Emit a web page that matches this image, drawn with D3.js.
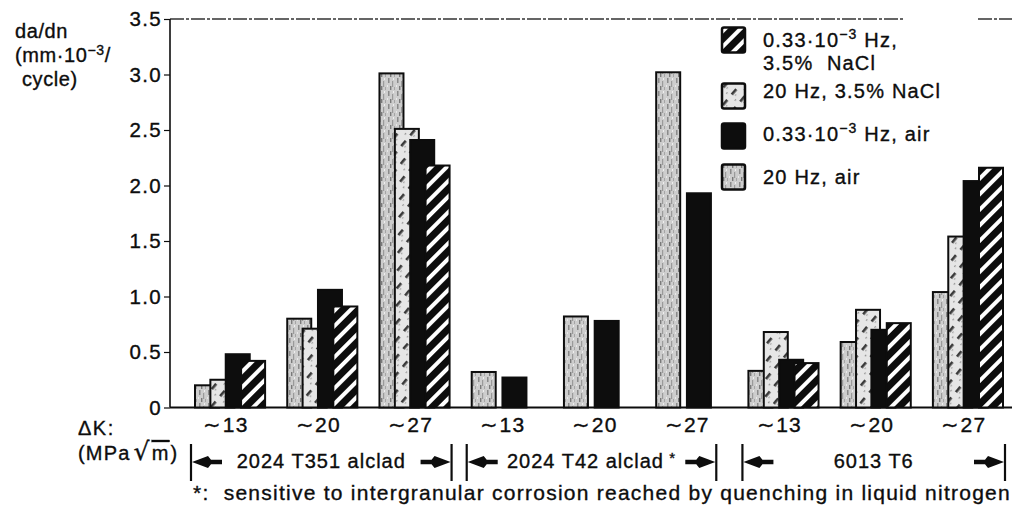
<!DOCTYPE html>
<html><head><meta charset="utf-8">
<script src="https://cdn.jsdelivr.net/npm/d3@7"></script>
<style>
html,body{margin:0;padding:0;background:#fff;}
svg{display:block;font-family:"Liberation Sans",Arial,Helvetica,sans-serif;}
svg text{stroke:#0d0d0d;stroke-width:0.35px;}
</style></head>
<body>
<svg id="c" width="1018" height="510"></svg>
<script>
// ---- data ----
const groupLabels = ["∼13","∼20","∼27","∼13","∼20","∼27","∼13","∼20","∼27"];
const seriesKeys = ["air20","nacl20","airLow","naclLow"];
const air20   = [0.20, 0.80, 3.01, 0.32, 0.82, 3.02, 0.33, 0.59, 1.04];
const nacl20  = [0.25, 0.71, 2.51, null, null, null, 0.68, 0.88, 1.54];
const airLow  = [0.48, 1.06, 2.41, 0.27, 0.78, 1.93, 0.43, 0.70, 2.04];
const naclLow = [0.42, 0.91, 2.18, null, null, null, 0.40, 0.76, 2.16];
const yTicks = [0, 0.5, 1.0, 1.5, 2.0, 2.5, 3.0, 3.5];
const yTickLabels = ["0","0.5","1.0","1.5","2.0","2.5","3.0","3.5"];
const alloys = ["2024 T351 alclad","2024 T42 alclad","6013 T6"];
const alloyStars = ["","*",""];
const alloyGroups = [[0,2],[3,5],[6,8]];
const footnote = "*:  sensitive to intergranular corrosion reached by quenching in liquid nitrogen";

const seriesData = {air20, nacl20, airLow, naclLow};

// ---- setup ----
const svg = d3.select("#c");
const defs = svg.append("defs");

// pattern: 20 Hz air (light gray stipple)
const pA = defs.append("pattern").attr("id","pAir20").attr("patternUnits","userSpaceOnUse")
  .attr("width",9).attr("height",13);
pA.append("rect").attr("width",9).attr("height",13).attr("fill","#cdcdcd");
[[1,0,1.5,5,"#8a8a8a"],[5,3,1.2,6,"#9a9a9a"],[3,8,1.4,4,"#7a7a7a"],[7,9,1,3,"#a5a5a5"],[0,7,1,2,"#e8e8e8"],[6,0,1,2,"#eeeeee"]]
  .forEach(r=>pA.append("rect").attr("x",r[0]).attr("y",r[1]).attr("width",r[2]).attr("height",r[3]).attr("fill",r[4]));

// pattern: 20 Hz NaCl (light with dashed diagonal)
const pB = defs.append("pattern").attr("id","pNacl20").attr("patternUnits","userSpaceOnUse")
  .attr("width",11).attr("height",14).attr("patternTransform","rotate(40)");
pB.append("rect").attr("width",11).attr("height",14).attr("fill","#e6e6e6");
pB.append("rect").attr("x",4).attr("y",1).attr("width",2.6).attr("height",7).attr("fill","#3a3a3a");
pB.append("rect").attr("x",0).attr("y",9).attr("width",1.2).attr("height",2).attr("fill","#999");
pB.append("rect").attr("x",8).attr("y",5).attr("width",1.2).attr("height",2).attr("fill","#aaa");

// pattern: low freq NaCl (black with white stripes)
const pC = defs.append("pattern").attr("id","pNaclLow").attr("patternUnits","userSpaceOnUse")
  .attr("width",11).attr("height",11).attr("patternTransform","rotate(45)");
pC.append("rect").attr("width",11).attr("height",11).attr("fill","#0d0d0d");
pC.append("rect").attr("x",3).attr("y",0).attr("width",4).attr("height",11).attr("fill","#fff");

const fills = {air20:"url(#pAir20)", nacl20:"url(#pNacl20)", airLow:"#0d0d0d", naclLow:"url(#pNaclLow)"};

// ---- scales ----
const y = d3.scaleLinear().domain([0,3.5]).range([407.5,19]);
const x = d3.scaleBand().domain(d3.range(groupLabels.length)).range([195,1003]).paddingInner(0.24).paddingOuter(0);
const barW = 24;
const xs = d3.scalePoint().domain(seriesKeys).range([0, x.bandwidth()-barW]);

const ink = "#0d0d0d";

// ---- top frame line (dash-dot) ----
svg.append("line").attr("x1",170).attr("x2",903).attr("y1",y(3.5)).attr("y2",y(3.5))
  .attr("stroke","#333").attr("stroke-width",1.3).attr("stroke-dasharray","14,2,3,2");
svg.append("line").attr("x1",978).attr("x2",1012).attr("y1",y(3.5)).attr("y2",y(3.5))
  .attr("stroke","#333").attr("stroke-width",1.3).attr("stroke-dasharray","14,2,3,2");

// ---- y axis ----
const yAxis = d3.axisLeft(y).tickValues(yTicks).tickFormat((d,i)=>yTickLabels[i]).tickSize(6).tickPadding(2);
const gy = svg.append("g").attr("transform","translate(170,0)").call(yAxis);
gy.select(".domain").attr("stroke",ink).attr("stroke-width",1.6).attr("d",`M0,${y(3.5)}V${y(0)}`);
gy.selectAll(".tick line").attr("stroke",ink).attr("stroke-width",1.2);
gy.selectAll(".tick text").attr("font-size",20.5).attr("fill",ink).attr("letter-spacing",1.3)
  .attr("font-family","Liberation Sans, Arial, sans-serif");

// baseline
svg.append("line").attr("x1",170).attr("x2",1012).attr("y1",y(0)).attr("y2",y(0))
  .attr("stroke",ink).attr("stroke-width",2);

// ---- bars ----
const gBars = svg.append("g");
groupLabels.forEach((g,gi)=>{
  seriesKeys.forEach(k=>{
    const v = seriesData[k][gi];
    if(v==null) return;
    gBars.append("rect")
      .attr("x", x(gi)+xs(k)).attr("width", barW)
      .attr("y", y(v)).attr("height", y(0)-y(v))
      .attr("fill", fills[k]).attr("stroke", ink).attr("stroke-width", 2);
  });
});

// ---- x group labels ----
svg.append("g").selectAll("text").data(groupLabels).join("text")
  .attr("x",(d,i)=>x(i)+x.bandwidth()/2-4).attr("y",432)
  .attr("text-anchor","middle").attr("font-size",21).attr("letter-spacing",1.3).attr("fill",ink).text(d=>d);

// ΔK label
svg.append("text").attr("x",78).attr("y",435).attr("font-size",20).attr("letter-spacing",1.5).attr("fill",ink).text("ΔK:");
const mpa = svg.append("text").attr("x",78).attr("y",460).attr("font-size",20).attr("letter-spacing",1.2).attr("fill",ink);
mpa.append("tspan").text("(MPa");
mpa.append("tspan").text("√").attr("font-family","DejaVu Sans").attr("font-size",25).attr("dx",3);
mpa.append("tspan").text("m").attr("text-decoration","overline").attr("dx",1);
mpa.append("tspan").text(")").attr("dx",1);

// ---- alloy brackets ----
const bracketPad = [[-4,2],[-5,-10],[-6,2]];
const gBr = svg.append("g");
const arrowPath = "M0,0 L16,-6 L19,-2.2 L30,-2.2 L30,2.2 L19,2.2 L16,6 Z";
alloys.forEach((a,i)=>{
  const [g0,g1] = alloyGroups[i];
  const xl = x(g0)+bracketPad[i][0];
  const xr = x(g1)+x.bandwidth()+bracketPad[i][1];
  const yy = 462;
  gBr.append("line").attr("x1",xl).attr("x2",xl).attr("y1",444).attr("y2",481).attr("stroke",ink).attr("stroke-width",2.2);
  gBr.append("line").attr("x1",xr).attr("x2",xr).attr("y1",444).attr("y2",481).attr("stroke",ink).attr("stroke-width",2.2);
  gBr.append("path").attr("d",arrowPath).attr("transform",`translate(${xl+1},${yy})`).attr("fill",ink);
  gBr.append("path").attr("d",arrowPath).attr("transform",`translate(${xr-1},${yy}) scale(-1,1)`).attr("fill",ink);
  const t = gBr.append("text").attr("x",(xl+xr)/2).attr("y",468).attr("text-anchor","middle")
    .attr("font-size",20).attr("letter-spacing",1).attr("fill",ink);
  t.append("tspan").text(a);
  if(alloyStars[i]) t.append("tspan").text(" "+alloyStars[i]).attr("font-size",15).attr("dy",-5);
});

// footnote
svg.append("text").attr("x",193).attr("y",500).attr("font-size",21).attr("letter-spacing",1.25).attr("fill",ink)
  .attr("xml:space","preserve").style("white-space","pre").text(footnote);

// ---- y title ----
const yt = svg.append("g").attr("fill",ink).attr("font-size",20).attr("letter-spacing",0.6);
yt.append("text").attr("x",15).attr("y",38).text("da/dn");
const yt2 = yt.append("text").attr("x",15).attr("y",62);
yt2.append("tspan").text("(mm·10");
yt2.append("tspan").text("−3").attr("font-size",14).attr("dy",-7);
yt2.append("tspan").text("/").attr("dy",7);
yt.append("text").attr("x",22).attr("y",86).text("cycle)");

// ---- legend ----
const legend = [
  {k:"naclLow", lines:[["0.33·10","−3"," Hz,"],["3.5%  NaCl"]], cy:40, by:47},
  {k:"nacl20", lines:[["20 Hz, 3.5% NaCl"]], cy:96, by:98},
  {k:"airLow", lines:[["0.33·10","−3"," Hz, air"]], cy:136, by:141},
  {k:"air20", lines:[["20 Hz, air"]], cy:177, by:184}
];
const gL = svg.append("g");
legend.forEach(L=>{
  gL.append("rect").attr("x",722).attr("y",L.cy-12.5).attr("width",23).attr("height",25).attr("rx",2)
    .attr("fill",fills[L.k]).attr("stroke",ink).attr("stroke-width",2.5);
  L.lines.forEach((ln,li)=>{
    const t = gL.append("text").attr("x",763).attr("y",L.by+li*23).attr("font-size",20).attr("letter-spacing",1.2).attr("fill",ink)
      .attr("xml:space","preserve").style("white-space","pre");
    if(ln.length===1){ t.text(ln[0]); }
    else {
      t.append("tspan").text(ln[0]);
      t.append("tspan").text(ln[1]).attr("font-size",14).attr("dy",-8);
      t.append("tspan").text(ln[2]).attr("dy",8);
    }
  });
});
</script>
</body></html>
